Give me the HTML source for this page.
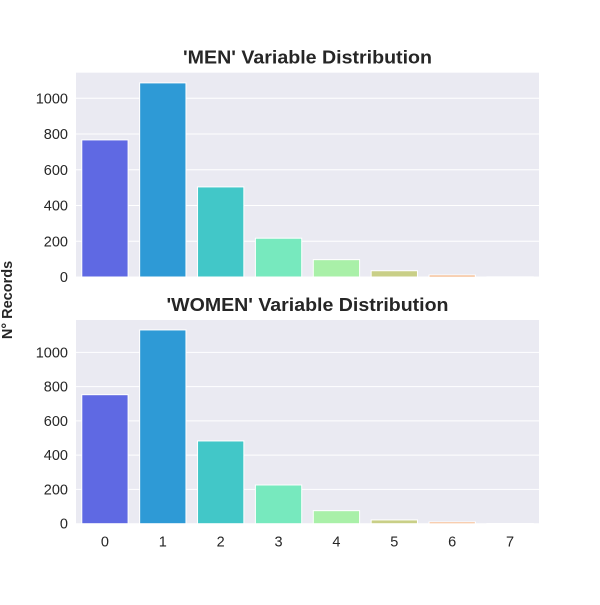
<!DOCTYPE html>
<html><head><meta charset="utf-8"><style>
body{margin:0;background:#fff;}
svg text{font-family:"Liberation Sans",Arial,sans-serif;fill:#262626;}
</style></head><body>
<svg id="chart" width="600" height="600"></svg>
<script>
const categories=[0,1,2,3,4,5,6,7];
const menValues=[767,1086,504,217,97,35,11,1];
const womenValues=[753,1131,483,226,76,22,10,1];
const yTicks=[0,200,400,600,800,1000];
const colors=["#5f69e3","#2e9ad6","#42c7c8","#77e9be","#a9f0a8","#c9cf87","#f1a064","#f06a45"];
const svg=document.getElementById('chart');
const NS="http://www.w3.org/2000/svg";
function mk(t,a,p){const e=document.createElementNS(NS,t);for(const k in a)e.setAttribute(k,a[k]);(p||svg).appendChild(e);return e;}
function panel(vals,top,bottom,ymax,title,tlen,name,showX){
  const L=76,R=539;
  const g=mk('g',{});
  
  
  const bg=mk('rect',{x:L,y:top,width:R-L,height:bottom-top,fill:'#eaeaf2'},g);
  
  
  const y=v=>bottom-(v/ymax)*(bottom-top);
  const bw=(R-L)/categories.length;
  const x=i=>L+bw*i;
  yTicks.forEach(t=>{
    mk('line',{x1:L,x2:R,y1:y(t),y2:y(t),stroke:'#fff','stroke-width':1},g);
    const tx=mk('text',{x:L-8,y:y(t)+5,'text-anchor':'end','font-size':14.5},g);
    tx.textContent=t;
    
    
  });
  vals.forEach((v,i)=>{
    const r=mk('rect',{x:x(i)+bw*0.1,y:y(v),width:bw*0.8,height:bottom-y(v),fill:colors[i],stroke:'#fff','stroke-width':1},g);
    
    
    if(showX){
      const tx=mk('text',{x:x(i)+bw/2,y:bottom+23,'text-anchor':'middle','font-size':14.5},g);
      tx.textContent=categories[i];
      
      
    }
  });
  const tt=mk('text',{x:(L+R)/2,y:top-9,'text-anchor':'middle','font-size':18,'font-weight':'bold',textLength:tlen,lengthAdjust:'spacingAndGlyphs'},g);
  tt.textContent=title;
  
  
}
panel(menValues,72.7,277,1143,"'MEN' Variable Distribution",249,'men-panel',false);
panel(womenValues,320,523.7,1189,"'WOMEN' Variable Distribution",282,'women-panel',true);
const yl=mk('text',{x:0,y:0,transform:'translate(12,300) rotate(-90)','text-anchor':'middle','font-size':14.5,'font-weight':'bold'});
yl.textContent='N° Records';


</script>
</body></html>
